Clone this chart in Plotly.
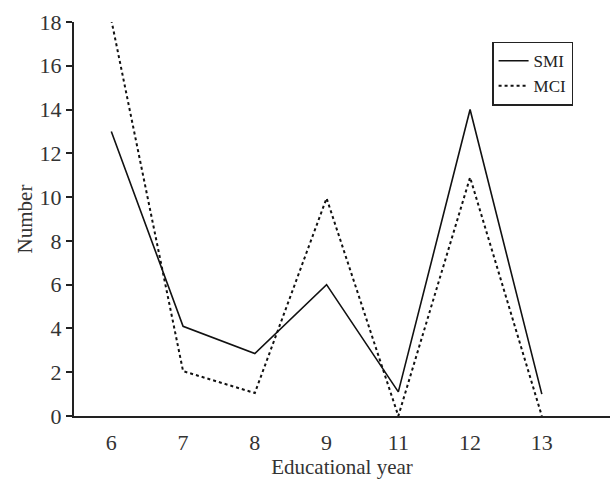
import plotly.graph_objects as go

categories = ["6", "7", "8", "9", "11", "12", "13"]
smi = [13, 4.1, 2.85, 6.0, 1.1, 14, 1.0]
mci = [18.1, 2.05, 1.05, 9.95, 0, 10.9, 0]
y_ticks = [0, 2, 4, 6, 8, 10, 12, 14, 16, 18]

xpos = list(range(len(categories)))
font_family = "Liberation Serif, DejaVu Serif, serif"

fig = go.Figure()
fig.add_trace(go.Scatter(x=xpos, y=smi, mode="lines", name="SMI",
                         line=dict(color="#111111", width=1.6)))
fig.add_trace(go.Scatter(x=xpos, y=mci, mode="lines", name="MCI",
                         line=dict(color="#111111", width=2, dash="dot")))

# small extension of the x axis line to the left of the y axis
fig.add_shape(type="line", xref="paper", yref="paper", x0=-0.012, x1=0,
              y0=0, y1=0, line=dict(color="#222222", width=2))

fig.update_layout(
    width=612, height=480,
    margin=dict(l=74, r=2, t=22, b=64, autoexpand=False),
    paper_bgcolor="white", plot_bgcolor="white",
    font=dict(family=font_family, size=22, color="#333333"),
    showlegend=True,
    legend=dict(x=0.78, y=0.95, xanchor="left", yanchor="top",
                bordercolor="#222222", borderwidth=1.5, bgcolor="white",
                font=dict(size=17, color="#222222"), tracegroupgap=0,
                itemwidth=30),
    xaxis=dict(range=[-0.52, 6.95], tickvals=xpos, ticktext=categories,
               showgrid=False, zeroline=False, showline=True,
               linecolor="#222222", linewidth=2, ticks="",
               ticklabelstandoff=6, automargin=False,
               title=dict(text="Educational year", standoff=4,
                          font=dict(size=21))),
    yaxis=dict(range=[0, 18], tickvals=y_ticks, showgrid=False,
               zeroline=False, showline=True, linecolor="#222222",
               linewidth=2, ticks="outside", ticklen=6, tickwidth=1.5,
               tickcolor="#222222", automargin=False,
               title=dict(text="Number", standoff=1, font=dict(size=21))),
)

fig.write_html("out.html", config={"displayModeBar": False},
               post_script="document.body.style.margin='0';"
                           "document.body.style.overflow='hidden';")
